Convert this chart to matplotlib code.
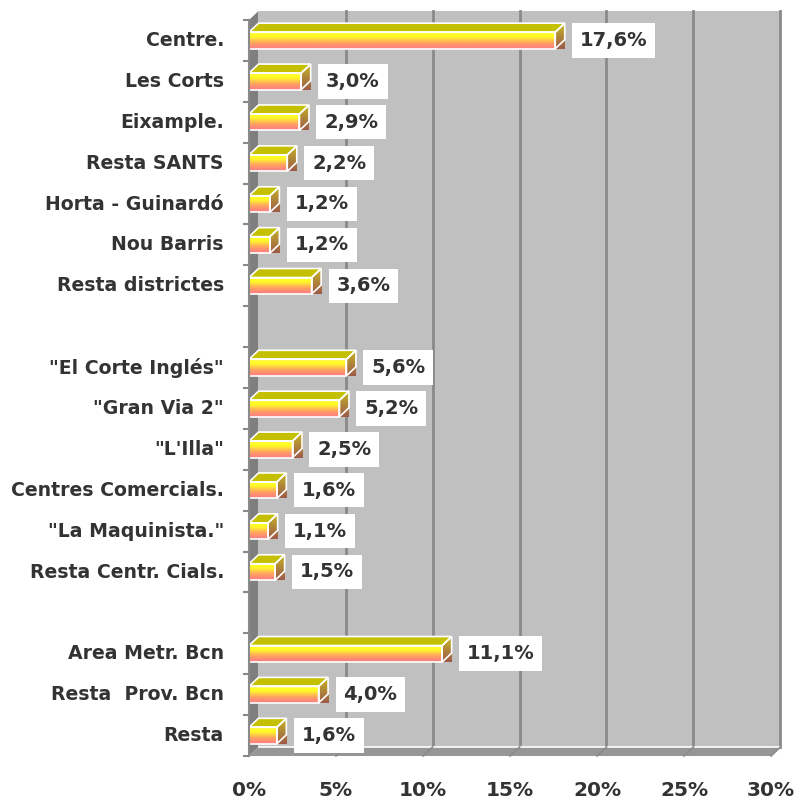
import numpy as np
import matplotlib
matplotlib.use("Agg")
import matplotlib.pyplot as plt
from matplotlib.patches import Polygon, Rectangle
from matplotlib.colors import LinearSegmentedColormap

categories = ['Centre.', 'Les Corts', 'Eixample.', 'Resta SANTS', 'Horta - Guinardó',
              'Nou Barris', 'Resta districtes', '',
              '"El Corte Inglés"', '"Gran Via 2"', '"L\'Illa"', 'Centres Comercials.',
              '"La Maquinista."', 'Resta Centr. Cials.', '',
              'Area Metr. Bcn', 'Resta  Prov. Bcn', 'Resta']
values = [17.6, 3.0, 2.9, 2.2, 1.2, 1.2, 3.6, None,
          5.6, 5.2, 2.5, 1.6, 1.1, 1.5, None,
          11.1, 4.0, 1.6]
xticks = [0, 5, 10, 15, 20, 25, 30]

W, H = 801, 802
fig = plt.figure(figsize=(W / 100, H / 100), dpi=100)
fig.patch.set_facecolor('white')

# front plane of the 3d box, in pixels
x0_px, x1_px = 249, 771
ytop_px, ybot_px = 20, 756
ax = fig.add_axes([x0_px / W, 1 - ybot_px / H, (x1_px - x0_px) / W, (ybot_px - ytop_px) / H])
n = len(categories)
xmax = 30
ax.set_xlim(0, xmax)
ax.set_ylim(n, 0)
ax.axis('off')

px_x = (x1_px - x0_px) / xmax
px_y = (ybot_px - ytop_px) / n
dx = 9.5 / px_x
dy = 9.0 / px_y

txt = '#333333'
wall = '#c0c0c0'
dark = '#8a8a8a'

# back wall, left wall, floor
ax.add_patch(Rectangle((dx, -dy), xmax, n, facecolor=wall, edgecolor='none', zorder=1, clip_on=False))
ax.add_patch(Polygon([(0, 0), (dx, -dy), (dx, n - dy), (0, n)], closed=True,
                     facecolor='#7f7f7f', edgecolor='none', zorder=2, clip_on=False))
ax.add_patch(Polygon([(0, n), (dx, n - dy), (xmax + dx, n - dy), (xmax, n)], closed=True,
                     facecolor='#969696', edgecolor='none', zorder=2, clip_on=False))
ax.plot([dx, xmax + dx], [n - dy, n - dy], color='white', lw=1.2, zorder=2.5, clip_on=False)
for t in xticks[1:]:
    ax.plot([t + dx, t + dx], [-dy, n - dy], color=dark, lw=2, zorder=1.5, clip_on=False)
    ax.plot([t + dx, t], [n - dy, n], color=dark, lw=1.2, zorder=2.5, clip_on=False)

# front axis with ticks
ax.plot([0, 0], [0, n], color=dark, lw=1.5, zorder=6, clip_on=False)
for k in range(n + 1):
    ax.plot([-5 / px_x, 0], [k, k], color=dark, lw=1.5, zorder=6, clip_on=False)

front_cmap = LinearSegmentedColormap.from_list(
    'front', ['#fff050', '#ffff20', '#fff030', '#ffc050', '#ffa060', '#ff8a78', '#ff8080'])
side_cmap = LinearSegmentedColormap.from_list('side', ['#c8b820', '#b08838', '#a05a48'])
grad = np.linspace(0, 1, 64).reshape(-1, 1)

h = 16.5 / px_y
for i, v in enumerate(values):
    if v is None:
        continue
    c = i + 0.5
    yt, yb = c - h / 2, c + h / 2
    # front face
    ax.imshow(grad, cmap=front_cmap, extent=(0, v, yb, yt), aspect='auto',
              interpolation='bilinear', zorder=3, clip_on=False)
    ax.add_patch(Rectangle((0, yt), v, h, facecolor='none', edgecolor='white', lw=1.2, zorder=3.5,
                           clip_on=False))
    # top face
    ax.add_patch(Polygon([(0, yt), (v, yt), (v + dx, yt - dy), (dx, yt - dy)], closed=True,
                         facecolor='#c4c000', edgecolor='white', lw=1.2, zorder=3.4, clip_on=False))
    # side face
    side = Polygon([(v, yt), (v + dx, yt - dy), (v + dx, yb - dy), (v, yb)], closed=True,
                   facecolor='none', edgecolor='white', lw=1.2, zorder=3.5, clip_on=False)
    ax.add_patch(side)
    im = ax.imshow(grad, cmap=side_cmap, extent=(v, v + dx, yb, yt - dy), aspect='auto',
                   interpolation='bilinear', zorder=3.3, clip_on=False)
    im.set_clip_path(side)
    # value label
    lab = f'{v:.1f}%'.replace('.', ',')
    ax.annotate(lab, xy=(v + dx, c), xytext=(11, 0), textcoords='offset points',
                ha='left', va='center', fontsize=14, fontweight='bold', color=txt,
                bbox=dict(boxstyle='square,pad=0.4', facecolor='white', edgecolor='none'),
                zorder=7, annotation_clip=False)

# category labels
for i, name in enumerate(categories):
    if name:
        ax.text(-25 / px_x, i + 0.5, name, ha='right', va='center', fontsize=13.6,
                fontweight='bold', color=txt, clip_on=False)

# x tick labels
for t in xticks:
    ax.text(t, n + 35 / px_y, f'{t}%', ha='center', va='center', fontsize=14.5,
            fontweight='bold', color=txt, clip_on=False)

ax.set_xlim(0, xmax)
ax.set_ylim(n, 0)
fig.savefig('out.png', dpi=100, facecolor='white')
